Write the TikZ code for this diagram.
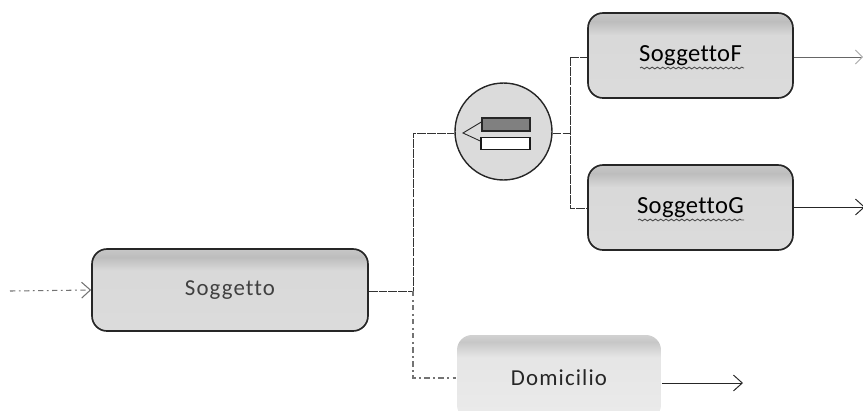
\documentclass[tikz,border=0pt]{standalone}
\usepackage{fontspec}
\setmainfont[Ligatures=NoCommon,LetterSpace=1.5]{Carlito}
\newfontfamily\widefont[Ligatures=NoCommon,LetterSpace=5]{Carlito}
\usetikzlibrary{arrows.meta,%
                decorations.pathmorphing}
\pgfdeclareverticalshading{BoxShade}{100bp}{color(0bp)=(black!14); color(25bp)=(black!14);
   color(62bp)=(black!15); color(70bp)=(black!26); color(75bp)=(black!22); color(100bp)=(black!22)}
\pgfdeclareverticalshading{PaleShade}{100bp}{color(0bp)=(black!8); color(25bp)=(black!8);
   color(62bp)=(black!10); color(71bp)=(black!22); color(75bp)=(black!18); color(100bp)=(black!18)}

\begin{document}
\begin{tikzpicture}[x=0.02cm,y=-0.02cm]
  \tikzstyle{BoxStyle}=[draw=black!85,line width=0.95pt,rounded corners=0.3cm,shading=BoxShade,
     minimum width=4.1cm,minimum height=1.7cm,inner sep=0pt,font=\fontsize{14}{15}\selectfont]
  \tikzstyle{EdgeStyle}=[draw=black!80,line width=0.45pt,dash pattern=on 5pt off 0.6pt]
  \tikzstyle{FaintStyle}=[draw=black!55,line width=0.6pt,dash pattern=on 3pt off 2pt on 1pt off 2pt]
  \tikzstyle{ArrowStyle}=[-{Straight Barb[length=5pt,width=9pt]}]
  \tikzstyle{WavyStyle}=[draw=black!70,line width=0.5pt,decorate,
     decoration={snake,amplitude=0.5pt,segment length=3pt}]
  \useasboundingbox (0,0) rectangle (863,410);

  \node [BoxStyle,minimum width=5.52cm,minimum height=1.64cm,text=black!75,
     font=\widefont\fontsize{13}{15}\selectfont] (sog) at (230,290) {\raisebox{-2pt}{Soggetto}};
  \node [BoxStyle] (sogf) at (690.5,55.5) {SoggettoF};
  \node [BoxStyle] (sogg) at (690.5,207.5) {SoggettoG};
  \node [BoxStyle,draw=none,shading=PaleShade,minimum width=4.08cm,text=black!85,
     font=\widefont\fontsize{13}{15}\selectfont] (dom) at (559,377.5) {Domicilio};
  \node [circle,draw=black!85,line width=0.8pt,fill=black!14,minimum size=1.94cm,inner sep=0pt] (sel) at (503.5,131.5) {};

  \node [draw=black!85,line width=0.8pt,fill=black!50,minimum width=0.96cm,minimum height=0.26cm,inner sep=0pt] (chf) at (506,124.5) {};
  \node [draw=black!90,line width=0.8pt,fill=white,minimum width=0.98cm,minimum height=0.25cm,inner sep=0pt] (chg) at (505.5,143.5) {};
  \coordinate (fork) at (463,133);
  \draw [draw=black!85,line width=0.5pt] ([yshift=0.05cm]chf.west) -- (fork) -- ([yshift=0.05cm]chg.west);

  \coordinate (start) at (10,291);
  \coordinate (up) at (413,291);
  \coordinate (upb) at (413,133);
  \coordinate (low) at (413,378);
  \coordinate (mid) at (570,133);
  \coordinate (midf) at (570,57);
  \coordinate (midg) at (570,208);
  \coordinate (endf) at (863,57);
  \coordinate (endg) at (865,207);
  \coordinate (endd) at (743,383);

  \draw [FaintStyle,ArrowStyle] (start) -- (sog.west);
  \draw [EdgeStyle] (sog.east |- up) -- (up) -- (upb) -- (sel.west |- upb);
  \draw [EdgeStyle] (sel.east |- mid) -- (mid);
  \draw [EdgeStyle] (midf) -- (sogf.west |- midf);
  \draw [EdgeStyle] (midf) -- (midg) -- (sogg.west |- midg);
  \draw [FaintStyle] (up) -- (low) -- (dom.west |- low);
  \draw [draw=black!60,line width=0.55pt,-{Straight Barb[length=4pt,width=8pt,black!30]}] (sogf.east |- endf) -- (endf);
  \draw [draw=black!85,line width=0.55pt,ArrowStyle] (sogg.east |- endg) -- (endg);
  \draw [draw=black!85,line width=0.55pt,ArrowStyle] (dom.east |- endd) -- (endd);

  \coordinate (wfa) at (640,68);
  \coordinate (wfb) at (744,68);
  \coordinate (wga) at (638,220);
  \coordinate (wgb) at (744,220);
  \draw [WavyStyle] (wfa) -- (wfb);
  \draw [WavyStyle] (wga) -- (wgb);
\end{tikzpicture}
\end{document}
